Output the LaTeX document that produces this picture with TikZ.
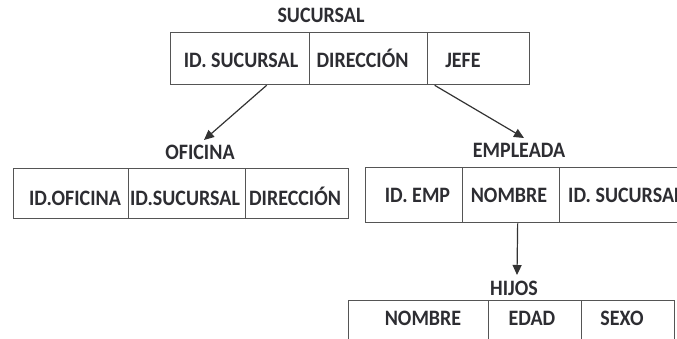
\documentclass[tikz,border=0pt]{standalone}
\usepackage{fontspec}
\usepackage{graphicx}
\setmainfont{Carlito}
\usetikzlibrary{arrows.meta}
\definecolor{boxline}{RGB}{85,85,85}
\definecolor{txt}{RGB}{45,45,50}
\newcommand{\lbl}[1]{\scalebox{1}[1.1]{#1}}
\tikzset{
  cell/.style={draw=boxline, line width=1.3pt, anchor=north west, inner sep=0pt},
  lab/.style={text=txt, font=\fontsize{20}{22}\selectfont\bfseries, inner sep=0pt, anchor=base},
  conn/.style={draw=black!80, line width=1.2pt, -{Triangle[length=10pt,width=9pt]}}
}
\begin{document}
\begin{tikzpicture}[x=1pt,y=-1pt]
\useasboundingbox (0,0) rectangle (677,339);
\clip (0,0) rectangle (677,339);
% SUCURSAL
\node[lab] (sucT) at (321,23) {\lbl{SUCURSAL}};
\node[cell, minimum width=139pt, minimum height=52pt] (s1) at (170,32) {};
\node[cell, minimum width=118pt, minimum height=52pt] (s2) at (309,32) {};
\node[cell, minimum width=102pt, minimum height=52pt] (s3) at (427,32) {};
\node[lab] (s1t) at (241,68) {\lbl{ID. SUCURSAL}};
\node[lab] (s2t) at (362.5,68) {\lbl{DIRECCIÓN}};
\node[lab] (s3t) at (463,68) {\lbl{JEFE}};
% OFICINA
\node[lab] (ofT) at (200,160) {\lbl{OFICINA}};
\node[cell, minimum width=115pt, minimum height=50pt] (o1) at (13,168) {};
\node[cell, minimum width=117pt, minimum height=50pt] (o2) at (128,168) {};
\node[cell, minimum width=103pt, minimum height=50pt] (o3) at (245,168) {};
\node[lab] (o1t) at (75,205) {\lbl{ID.OFICINA}};
\node[lab] (o2t) at (185,205) {\lbl{ID.SUCURSAL}};
\node[lab] (o3t) at (295,205) {\lbl{DIRECCIÓN}};
% EMPLEADA
\node[lab] (emT) at (519,158) {\lbl{EMPLEADA}};
\node[cell, minimum width=97pt, minimum height=55pt] (e1) at (365,167) {};
\node[cell, minimum width=97pt, minimum height=55pt] (e2) at (462,167) {};
\node[cell, minimum width=160pt, minimum height=55pt] (e3) at (559,167) {};
\node[lab] (e1t) at (417.5,203) {\lbl{ID. EMP}};
\node[lab] (e2t) at (509,203) {\lbl{NOMBRE}};
\node[lab, anchor=base west] (e3t) at (568,203) {\lbl{ID. SUCURSAL}};
% HIJOS
\node[lab] (hiT) at (514,295) {\lbl{HIJOS}};
\node[cell, minimum width=140pt, minimum height=60pt] (h1) at (348,300) {};
\node[cell, minimum width=93pt, minimum height=60pt] (h2) at (488,300) {};
\node[cell, minimum width=93pt, minimum height=60pt] (h3) at (581,300) {};
\node[lab] (h1t) at (423,325) {\lbl{NOMBRE}};
\node[lab] (h2t) at (532,325) {\lbl{EDAD}};
\node[lab] (h3t) at (622,325) {\lbl{SEXO}};
% connectors
\coordinate (a1) at ([xshift=26.5pt]s1.south);
\coordinate (a2) at ([xshift=-44pt]s3.south);
\coordinate (a3) at ([xshift=6.5pt]e2.south);
\coordinate (t1) at (204,140);
\coordinate (t2) at (524,138);
\coordinate (t3) at (517,275);
\draw[conn] (a1) -- (t1);
\draw[conn] (a2) -- (t2);
\draw[conn] (a3) -- (t3);
\end{tikzpicture}
\end{document}
